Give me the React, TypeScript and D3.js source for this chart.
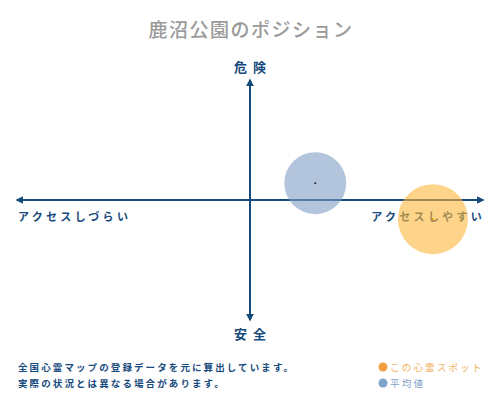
import React from "react";
import * as d3 from "d3";

const title = "鹿沼公園のポジション";
const axisTop = "危険";
const axisBottom = "安全";
const axisLeft = "アクセスしづらい";
const axisRight = "アクセスしやすい";
const notes = ["全国心霊マップの登録データを元に算出しています。", "実際の状況とは異なる場合があります。"];
const seriesNames = ["この心霊スポット", "平均値"];
const seriesColors = ["#fbb73a", "#7f9fc6"];
const seriesX = [7.85, 2.8];
const seriesY = [-1.6, 1.4];
const seriesR = [35, 31];

const W = 500;
const H = 400;
const NAVY = "#174a7c";
const FONT = "'Noto Sans CJK JP', 'Noto Sans', sans-serif";

export default function App() {
  const x = d3.scaleLinear().domain([-10, 10]).range([17, 483]);
  const y = d3.scaleLinear().domain([-10, 10]).range([320, 80]);
  const order = [1, 0];
  return (
    <svg width={W} height={H} style={{ position: "absolute", left: 0, top: 0, background: "#fff" }} fontFamily={FONT}>
      <defs>
        <marker id="arr" viewBox="0 0 10 10" refX="8" refY="5" markerWidth="4" markerHeight="4" orient="auto-start-reverse">
          <path d="M0,0 L10,5 L0,10 z" fill={NAVY} />
        </marker>
      </defs>
      <text x={251} y={37} textAnchor="middle" fontSize={19} fill="#9a9a9a" letterSpacing={1.5} fontWeight={500}>{title}</text>
      <text x={253} y={72} textAnchor="middle" fontSize={13} fill={NAVY} fontWeight={700} letterSpacing={6}>{axisTop}</text>
      <text x={253} y={339} textAnchor="middle" fontSize={13} fill={NAVY} fontWeight={700} letterSpacing={6}>{axisBottom}</text>
      <line x1={x(0)} x2={x(0)} y1={y(-10) } y2={y(10)} stroke={NAVY} strokeWidth={2} markerStart="url(#arr)" markerEnd="url(#arr)" />
      <line x1={x(-10)} x2={x(10)} y1={y(0)} y2={y(0)} stroke={NAVY} strokeWidth={2} markerStart="url(#arr)" markerEnd="url(#arr)" />
      <text x={18} y={221} fontSize={11} fill={NAVY} letterSpacing={3.3} fontWeight={700}>{axisLeft}</text>
      <text x={485} y={221} textAnchor="end" fontSize={11} fill={NAVY} letterSpacing={3.3} fontWeight={700}>{axisRight}</text>
      {order.map((i) => (
        <g key={i}>
          <circle cx={x(seriesX[i])} cy={y(seriesY[i])} r={seriesR[i]} fill={seriesColors[i]} fillOpacity={0.6} />
          <circle cx={x(seriesX[i])} cy={y(seriesY[i])} r={1} fill={i === 0 ? "#e8900a" : "#222"} />
        </g>
      ))}
      {notes.map((n, i) => (
        <text key={i} x={18} y={371 + i * 16} fontSize={9.5} fill={NAVY} letterSpacing={2.1} fontWeight={700}>{n}</text>
      ))}
      {seriesNames.map((n, i) => (
        <g key={n}>
          <circle cx={383} cy={367 + i * 16} r={4.5} fill={i === 0 ? "#f0a040" : "#7fa3c8"} />
          <text x={390} y={371 + i * 16} fontSize={9.5} fill={i === 0 ? "#f0b060" : "#7fa3c8"} letterSpacing={2.2}>{n}</text>
        </g>
      ))}
    </svg>
  );
}
